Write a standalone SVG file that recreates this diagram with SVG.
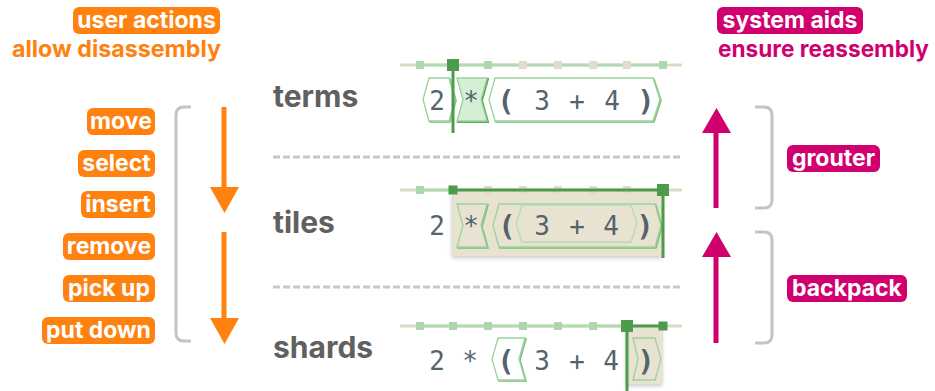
<svg xmlns="http://www.w3.org/2000/svg" width="935" height="391" viewBox="0 0 935 391">
<defs>
<style>
.lbl{font-family:Inter,"Liberation Sans",sans-serif;font-weight:700;font-size:23px}
.po{fill:#ff8210}
.pm{fill:#d1006f}
.to{fill:#ff8210}
.tm{fill:#d1006f}
.pt{fill:#fff;text-anchor:middle}
.row{font-family:Inter,"Liberation Sans",sans-serif;font-weight:700;font-size:30px;fill:#606060}
.code{font-family:"DejaVu Sans Mono",monospace;font-size:26px;fill:#55636b;text-anchor:middle}
.paren{font-weight:700;font-size:29px}
.track{stroke:#ddd9c8;stroke-width:3}
.trackg{stroke:#b3dbb3;stroke-width:3}
.sel{stroke:#4c9c4c;stroke-width:3}
.tick{fill:#add8ad}
.tickb{fill:#e0dccb}
.mark{fill:#4c9c4c}
.caret{stroke:#4c9c4c;stroke-width:3}
.tile{fill:#fff;stroke:#9ad39a;stroke-width:1.3}
.tileb{fill:#e8e3d1;stroke:#9ad39a;stroke-width:1.3}
.tsh{fill:none;stroke:#7cbf7c;stroke-width:1.6}
.inner{fill:none;stroke:#b2dcb2;stroke-width:1.3}
.selbg{fill:#e8e3d1}
.bracket{fill:none;stroke:#c4c4c4;stroke-width:3}
.sep{stroke:#c8c8c8;stroke-width:3;stroke-dasharray:7 3}
.ao{stroke:#ff8210;stroke-width:5}
.am{stroke:#d1006f;stroke-width:5}
</style>
<filter id="soft" x="-30%" y="-20%" width="160%" height="150%">
<feDropShadow dx="-1" dy="2" stdDeviation="2" flood-color="#000" flood-opacity="0.22"/>
</filter>
</defs>
<rect width="935" height="391" fill="#fff"/>

<!-- headings -->
<g id="user-actions">
<rect class="po" x="73" y="7" width="147" height="27" rx="6"/>
<text class="lbl pt" x="146.5" y="28">user actions</text>
<text class="lbl to" x="221" y="57" text-anchor="end" textLength="209" lengthAdjust="spacingAndGlyphs">allow disassembly</text>
</g>
<g id="system-aids">
<rect class="pm" x="717" y="7" width="146" height="27" rx="6"/>
<text class="lbl pt" x="790" y="28">system aids</text>
<text class="lbl tm" x="718" y="57" textLength="211" lengthAdjust="spacingAndGlyphs">ensure reassembly</text>
</g>

<!-- action pills -->
<g id="move"><rect class="po" x="87" y="108" width="68" height="27" rx="6"/><text class="lbl pt" x="121" y="129">move</text></g>
<g id="select"><rect class="po" x="78" y="150" width="77" height="27" rx="6"/><text class="lbl pt" x="116.5" y="171">select</text></g>
<g id="insert"><rect class="po" x="81" y="191" width="74" height="27" rx="6"/><text class="lbl pt" x="118" y="212">insert</text></g>
<g id="remove"><rect class="po" x="63" y="233" width="92" height="27" rx="6"/><text class="lbl pt" x="109" y="254">remove</text></g>
<g id="pick-up"><rect class="po" x="63" y="275" width="92" height="27" rx="6"/><text class="lbl pt" x="109" y="296">pick up</text></g>
<g id="put-down"><rect class="po" x="42" y="317" width="113" height="27" rx="6"/><text class="lbl pt" x="98.5" y="338">put down</text></g>

<!-- aid pills -->
<g id="grouter"><rect class="pm" x="787" y="145" width="93" height="27" rx="6"/><text class="lbl pt" x="833.5" y="166">grouter</text></g>
<g id="backpack"><rect class="pm" x="787" y="275" width="120" height="27" rx="6"/><text class="lbl pt" x="847" y="296">backpack</text></g>

<!-- brackets -->
<g id="brackets">
<path class="bracket" d="M191,107 H184 Q176,107 176,115 V333 Q176,341 184,341 H191"/>
<path class="bracket" d="M755,107 H764 Q772,107 772,115 V200 Q772,208 764,208 H755"/>
<path class="bracket" d="M755,232 H764 Q772,232 772,240 V335 Q772,343 764,343 H755"/>
</g>

<!-- connectors -->
<g id="connectors">
<line class="ao" x1="224" y1="107" x2="224" y2="190"/>
<polygon class="to" points="210,187 239,187 224.5,213"/>
<line class="ao" x1="224" y1="232" x2="224" y2="320"/>
<polygon class="to" points="210,318 239,318 224.5,344"/>
<line class="am" x1="716" y1="130" x2="716" y2="208"/>
<polygon class="tm" points="702,133 731,133 716.5,108"/>
<line class="am" x1="716" y1="255" x2="716" y2="343"/>
<polygon class="tm" points="702,257 731,257 716.5,232"/>
</g>

<!-- row labels and separators -->
<g id="levels">
<text class="row" x="273" y="107">terms</text>
<text class="row" x="273" y="233">tiles</text>
<text class="row" x="273" y="358">shards</text>
<line class="sep" x1="273" y1="157" x2="682" y2="157"/>
<line class="sep" x1="273" y1="287" x2="682" y2="287"/>
</g>

<!-- terms row -->
<g id="terms">
<line class="track" x1="400" y1="65" x2="682" y2="65"/>
<line class="trackg" x1="420" y1="65" x2="663" y2="65"/>
<rect class="tick" x="416" y="61" width="8" height="8"/>
<rect class="tick" x="484" y="61" width="8" height="8"/>
<rect class="tickb" x="519" y="61" width="8" height="8"/>
<rect class="tickb" x="554" y="61" width="8" height="8"/>
<rect class="tickb" x="589" y="61" width="8" height="8"/>
<rect class="tickb" x="623" y="61" width="8" height="8"/>
<rect class="tick" x="659" y="61" width="8" height="8"/>
<path class="tsh" d="M430,79 H450 L456,100.5 L450,122 H430 L424,100.5 Z"/>
<path class="tile" d="M429,78 H449 L455,99.5 L449,121 H429 L423,99.5 Z"/>
<path class="tsh" d="M458,79 H488 L482,100.5 L488,122 H458 L464,100.5 Z" style="stroke:#5aab5a;stroke-width:2"/>
<path class="tile" style="fill:#d5eed5" d="M457,78 H487 L481,99.5 L487,121 H457 L463,99.5 Z"/>
<path class="tsh" d="M496,79 H654 L661,100.5 L654,122 H496 L490,100.5 Z"/>
<path class="tile" d="M495,78 H653 L660,99.5 L653,121 H495 L489,99.5 Z"/>
<text class="code" x="437" y="110">2</text>
<text class="code" x="471" y="110">*</text>
<text class="code paren" x="506" y="111">(</text>
<text class="code" x="542" y="110">3</text>
<text class="code" x="577" y="110">+</text>
<text class="code" x="612" y="110">4</text>
<text class="code paren" x="646" y="111">)</text>
<line class="caret" x1="453" y1="60" x2="453" y2="133"/>
<rect class="mark" x="447" y="59" width="12" height="12"/>
</g>

<!-- tiles row -->
<g id="tiles">
<rect class="selbg" x="453" y="190" width="210" height="66" filter="url(#soft)"/>
<line class="track" x1="400" y1="190" x2="682" y2="190"/>
<line class="trackg" x1="420" y1="190" x2="453" y2="190"/>
<rect class="tick" x="416" y="186" width="8" height="8"/>
<rect class="tickb" x="484" y="186" width="8" height="8"/>
<rect class="tickb" x="519" y="186" width="8" height="8"/>
<rect class="tickb" x="554" y="186" width="8" height="8"/>
<rect class="tickb" x="589" y="186" width="8" height="8"/>
<rect class="tickb" x="623" y="186" width="8" height="8"/>
<line class="sel" x1="453" y1="190" x2="663" y2="190"/>
<path class="tsh" d="M458,205 H488 L482,226.5 L488,248 H458 L464,226.5 Z"/>
<path class="tileb" d="M457,204 H487 L481,225.5 L487,247 H457 L463,225.5 Z"/>
<path class="tsh" d="M500,205 H656 L662,226.5 L656,248 H500 L494,226.5 Z"/>
<path class="tileb" d="M499,204 H655 L661,225.5 L655,247 H499 L493,225.5 Z"/>
<path class="inner" d="M522,205 H631 L637,223.5 L631,242 H522 L516,223.5 Z"/>
<text class="code" x="437" y="235">2</text>
<text class="code" x="471" y="235">*</text>
<text class="code paren" x="507" y="236">(</text>
<text class="code" x="542" y="235">3</text>
<text class="code" x="577" y="235">+</text>
<text class="code" x="611" y="235">4</text>
<text class="code paren" x="645" y="236">)</text>
<line class="caret" x1="663" y1="185" x2="663" y2="258"/>
<rect class="mark" x="448.5" y="185.5" width="9" height="9"/>
<rect class="mark" x="657" y="184" width="12" height="12"/>
</g>

<!-- shards row -->
<g id="shards">
<rect class="selbg" x="627" y="326" width="36" height="58" filter="url(#soft)"/>
<line class="track" x1="400" y1="326" x2="682" y2="326"/>
<line class="trackg" x1="420" y1="326" x2="627" y2="326"/>
<rect class="tick" x="416" y="322" width="8" height="8"/>
<rect class="tick" x="449" y="322" width="8" height="8"/>
<rect class="tick" x="484" y="322" width="8" height="8"/>
<rect class="tick" x="519" y="322" width="8" height="8"/>
<rect class="tick" x="554" y="322" width="8" height="8"/>
<rect class="tick" x="589" y="322" width="8" height="8"/>
<line class="sel" x1="627" y1="326" x2="663" y2="326"/>
<path class="tsh" d="M499,339 H526 L520,360 L526,381 H499 L493,360 Z"/>
<path class="tile" d="M498,338 H525 L519,359 L525,380 H498 L492,359 Z"/>
<path class="tileb" d="M633,338 H655 L661,359 L655,380 H633 L638,359 Z"/>
<text class="code" x="437" y="370">2</text>
<text class="code" x="470" y="370">*</text>
<text class="code paren" x="506" y="371">(</text>
<text class="code" x="542" y="370">3</text>
<text class="code" x="577" y="370">+</text>
<text class="code" x="611" y="370">4</text>
<text class="code paren" x="646" y="371">)</text>
<line class="caret" x1="627" y1="321" x2="627" y2="391"/>
<rect class="mark" x="621" y="320" width="12" height="12"/>
<rect class="mark" x="658.5" y="321.5" width="9" height="9"/>
</g>
</svg>
